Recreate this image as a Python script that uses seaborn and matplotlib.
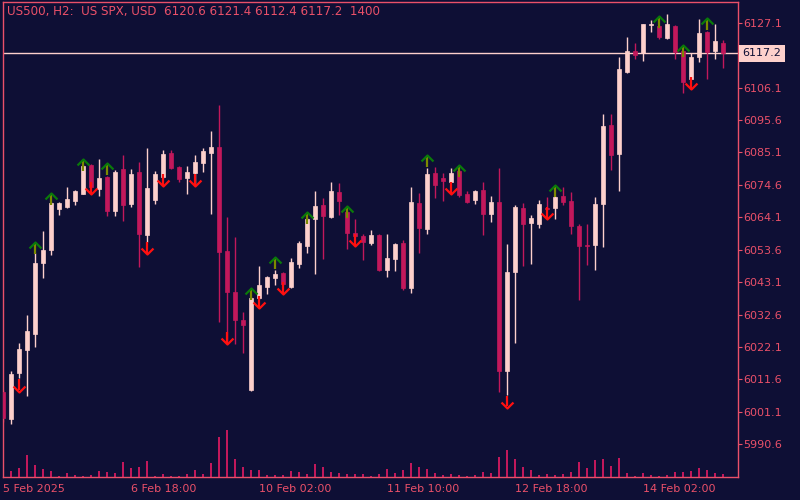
import numpy as np
import matplotlib
matplotlib.use("Agg")
import matplotlib.pyplot as plt
from matplotlib.path import Path
import seaborn as sns

# US500 H2 candles, 5 Feb 10:00 -> 14 Feb
opens = [6007.5, 5998.9, 6013.8, 6021.3, 6026.4, 6049.4, 6053.5, 6066.8, 6067.4, 6069.4,
         6071.7, 6081.0, 6073.4, 6077.2, 6066.2, 6079.7, 6068.4, 6078.7, 6058.5, 6069.7,
         6077.2, 6084.9, 6080.4, 6076.8, 6078.4, 6081.7, 6084.9, 6086.9, 6053.2, 6039.9,
         6030.9, 6008.2, 6037.9, 6041.6, 6044.6, 6046.1, 6041.5, 6049.0, 6054.8, 6063.5,
         6068.1, 6064.2, 6072.3, 6065.8, 6059.0, 6058.0, 6055.8, 6058.4, 6047.0, 6050.6,
         6055.8, 6041.2, 6068.7, 6060.3, 6078.4, 6076.8, 6075.5, 6079.1, 6071.7, 6069.7,
         6072.9, 6065.2, 6069.1, 6014.5, 6046.5, 6067.1, 6062.2, 6061.9, 6067.0, 6067.1,
         6071.0, 6069.4, 6061.3, 6055.0, 6055.1, 6068.4, 6094.0, 6084.6, 6111.1, 6117.9,
         6117.3, 6126.4, 6126.0, 6122.1, 6126.0, 6117.9, 6109.0, 6116.0, 6124.1, 6117.9,
         6120.6]
highs = [6008.2, 6014.4, 6023.4, 6032.5, 6052.5, 6059.7, 6069.2, 6069.0, 6073.9, 6072.9,
         6081.0, 6081.3, 6082.9, 6077.5, 6079.4, 6084.3, 6079.7, 6082.0, 6086.5, 6079.1,
         6085.9, 6085.9, 6080.7, 6080.7, 6084.3, 6086.5, 6092.0, 6100.5, 6064.2, 6057.7,
         6033.5, 6038.3, 6048.3, 6045.1, 6047.0, 6046.3, 6050.9, 6056.4, 6063.8, 6072.6,
         6070.3, 6075.5, 6075.2, 6066.0, 6063.5, 6058.7, 6060.0, 6058.7, 6058.7, 6055.8,
         6056.8, 6073.9, 6072.0, 6080.1, 6080.4, 6078.4, 6080.1, 6079.3, 6072.6, 6072.8,
         6075.5, 6071.0, 6080.1, 6055.5, 6068.1, 6068.7, 6064.9, 6069.7, 6070.7, 6070.9,
         6073.9, 6072.3, 6061.9, 6061.9, 6070.7, 6097.5, 6097.5, 6116.0, 6122.5, 6120.5,
         6126.8, 6128.0, 6126.3, 6129.9, 6126.4, 6118.0, 6117.3, 6128.3, 6124.3, 6126.7,
         6121.4]
lows = [5997.9, 5997.3, 6012.1, 6006.4, 6022.2, 6044.6, 6052.0, 6064.9, 6067.2, 6068.1,
        6071.5, 6073.6, 6071.1, 6064.5, 6064.5, 6062.9, 6067.5, 6048.1, 6056.2, 6068.4,
        6076.9, 6079.7, 6075.5, 6071.7, 6074.6, 6078.7, 6065.2, 6030.3, 6023.8, 6023.2,
        6020.3, 6008.0, 6037.6, 6039.2, 6042.3, 6042.3, 6041.2, 6047.7, 6052.6, 6045.8,
        6050.6, 6064.0, 6064.9, 6053.9, 6057.8, 6050.3, 6055.1, 6046.8, 6044.8, 6046.7,
        6040.6, 6039.6, 6052.6, 6058.7, 6070.3, 6069.4, 6075.4, 6070.7, 6068.7, 6068.4,
        6058.4, 6062.6, 6007.6, 6006.6, 6023.5, 6048.3, 6049.0, 6060.6, 6066.5, 6063.5,
        6068.1, 6058.7, 6037.3, 6048.7, 6047.0, 6054.5, 6079.4, 6072.6, 6110.8, 6115.3,
        6114.7, 6124.1, 6121.8, 6121.9, 6115.3, 6104.3, 6108.8, 6114.4, 6108.9, 6115.3,
        6112.4]
closes = [5999.2, 6013.4, 6021.5, 6027.3, 6049.3, 6053.5, 6068.6, 6068.7, 6070.0, 6072.6,
          6080.7, 6074.0, 6076.8, 6066.2, 6078.8, 6068.1, 6078.1, 6058.8, 6073.6, 6078.1,
          6084.6, 6080.0, 6076.5, 6078.7, 6082.0, 6085.6, 6086.9, 6052.9, 6040.0, 6031.0,
          6029.2, 6038.0, 6042.2, 6044.8, 6045.8, 6042.5, 6049.6, 6055.8, 6063.5, 6067.7,
          6064.5, 6072.6, 6069.4, 6059.0, 6058.0, 6056.1, 6058.4, 6047.0, 6050.9, 6055.5,
          6041.2, 6069.1, 6060.6, 6078.1, 6074.6, 6075.8, 6078.4, 6071.3, 6069.1, 6072.6,
          6065.2, 6069.1, 6014.4, 6046.4, 6067.4, 6061.9, 6063.9, 6068.4, 6066.7, 6070.7,
          6069.1, 6061.3, 6054.8, 6054.8, 6068.4, 6093.6, 6084.3, 6112.1, 6117.9, 6116.6,
          6126.7, 6126.6, 6122.5, 6126.7, 6117.6, 6107.9, 6116.0, 6123.8, 6117.6, 6121.2,
          6117.2]
volumes = [6, 6, 9, 22, 12, 8, 6, 1, 4, 2, 1, 2, 6, 5, 4, 15, 9, 10, 16, 1,
           3, 1, 1, 3, 7, 3, 14, 40, 47, 18, 10, 7, 7, 2, 2, 2, 6, 5, 3, 13,
           10, 5, 4, 3, 3, 3, 1, 3, 8, 4, 7, 14, 10, 8, 4, 2, 3, 2, 1, 2,
           5, 4, 20, 27, 18, 10, 7, 2, 3, 2, 3, 5, 15, 9, 17, 18, 11, 19, 4, 1,
           4, 2, 1, 2, 5, 5, 6, 9, 7, 4, 3]

# fractal-style signal arrows (bar index, price at the arrow head)
up_idx = [4, 6, 10, 13, 31, 34, 38, 43, 53, 57, 69, 82, 85, 88]
up_tip = [6056.2, 6071.9, 6082.9, 6081.6, 6041.2, 6051.4, 6065.8, 6067.8, 6084.3, 6081.0,
          6074.6, 6129.3, 6119.9, 6128.6]
dn_idx = [2, 11, 18, 20, 24, 28, 32, 35, 44, 56, 63, 68, 86]
dn_tip = [6007.7, 6071.7, 6052.1, 6074.3, 6074.3, 6023.0, 6034.7, 6039.2, 6054.9, 6071.6,
          6002.5, 6063.6, 6105.6]

tick_pos = [0, 16, 32, 48, 64, 80]
tick_labels = ["5 Feb 2025", "6 Feb 18:00", "10 Feb 02:00", "11 Feb 10:00",
               "12 Feb 18:00", "14 Feb 02:00"]
price_ticks = [6127.1, 6106.1, 6095.6, 6085.1, 6074.6, 6064.1, 6053.6, 6043.1,
               6032.6, 6022.1, 6011.6, 6001.1, 5990.6]
last_price = 6117.2
header = "US500, H2:  US SPX, USD  6120.6 6121.4 6112.4 6117.2  1400"

BG = "#0e0f35"
FG = "#ea5069"
BULL = "#fdd0cc"
BEAR = "#c2185b"
UP_GREEN = "#0a7a0a"
UP_STEM = "#7c8a00"
DN_RED = "#ff1010"

sns.set_style("dark", {"axes.facecolor": BG, "figure.facecolor": BG,
                       "axes.edgecolor": FG, "text.color": FG,
                       "xtick.color": FG, "ytick.color": FG})
plt.rcParams["font.family"] = ["DejaVu Sans"]

idx = np.arange(len(opens))
o = np.array(opens)
c = np.array(closes)
is_bull = c >= o
cols = np.where(is_bull, BULL, BEAR)

fig = plt.figure(figsize=(8, 5), dpi=100, facecolor=BG)
rect = [2.5 / 800, 1 - 476.5 / 500, 735 / 800, 474.5 / 500]
ax = fig.add_axes(rect)
vax = fig.add_axes(rect, sharex=ax)

# volume histogram at the bottom of the window
sns.barplot(x=idx, y=volumes, native_scale=True, width=0.16, color=BEAR,
            saturation=1, linewidth=0, ax=vax)
vax.set_ylim(0, 474.5)
vax.axis("off")
vax.set_zorder(0)
ax.set_zorder(1)
ax.patch.set_alpha(0)

ax.axhline(last_price, color=BULL, lw=1.0, zorder=0.5)

# candles
ax.vlines(idx, lows, highs, colors=cols, lw=1.0, zorder=2)
ax.bar(idx, np.abs(c - o), bottom=np.minimum(o, c), width=0.62, color=cols,
       edgecolor=cols, linewidth=0.5, zorder=3)

# arrows
up_mark = Path([(-1, -1), (0, 0), (1, -1)], [Path.MOVETO, Path.LINETO, Path.LINETO])
dn_mark = Path([(-1, 1), (0, 0), (1, 1)], [Path.MOVETO, Path.LINETO, Path.LINETO])
stem = 3.9
ut = np.array(up_tip)
dt = np.array(dn_tip)
ax.vlines(up_idx, ut - stem, ut - 0.4, colors=UP_STEM, lw=1.6, zorder=4)
ax.plot(up_idx, up_tip, ls="none", marker=up_mark, ms=8.6, mec=UP_GREEN,
        mfc="none", mew=1.6, zorder=5)
ax.vlines(dn_idx, dt + 0.4, dt + stem, colors=DN_RED, lw=1.6, zorder=4)
ax.plot(dn_idx, dn_tip, ls="none", marker=dn_mark, ms=8.6, mec=DN_RED,
        mfc="none", mew=1.6, zorder=5)

ax.set_xlim(-0.06, 91.81)
ax.set_ylim(5980.2, 6133.8)

ax.yaxis.tick_right()
ax.set_yticks(price_ticks, [f"{p:.1f}" for p in price_ticks])
ax.set_xticks(tick_pos, tick_labels)
for lbl in ax.get_xticklabels():
    lbl.set_ha("left")
ax.tick_params(axis="y", direction="out", length=3, width=0.8, color=FG,
               labelcolor=FG, labelsize=8, pad=1)
ax.tick_params(axis="x", direction="out", length=4, width=0.8, color=FG,
               labelcolor=FG, labelsize=8, pad=1.5)
ax.grid(False)
for sp in ax.spines.values():
    sp.set_visible(True)
    sp.set_color(FG)
    sp.set_linewidth(1.0)

ax.annotate(f"{last_price:.1f}", xy=(1, last_price), xycoords=ax.get_yaxis_transform(),
            xytext=(3.5, 0), textcoords="offset points", va="center", ha="left",
            fontsize=8, color=BG, annotation_clip=False,
            bbox=dict(boxstyle="square,pad=0.3", fc=BULL, ec="none"))

fig.text(7 / 800, 1 - 12 / 500, header, color=FG, fontsize=8.6, va="center", ha="left")

fig.savefig("out.png", dpi=100, facecolor=BG)
